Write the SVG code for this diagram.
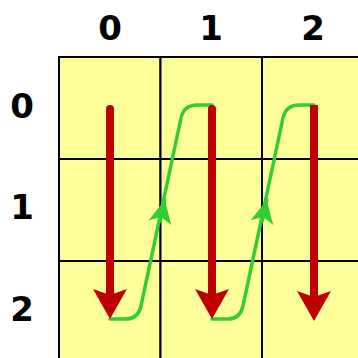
<svg xmlns="http://www.w3.org/2000/svg" width="358" height="358" viewBox="0 0 358 358">
<style>
.lbl{font-family:"DejaVu Sans","Liberation Sans",sans-serif;font-weight:bold;font-size:34px;fill:#000;text-anchor:middle}
.cell{fill:#ffff99;stroke:#000;stroke-width:2}
.red{fill:none;stroke:#c00000;stroke-width:8}
.green{fill:none;stroke:#33cc33;stroke-width:3.5;stroke-linecap:round}
</style>
<defs>
<marker id="rh" markerUnits="userSpaceOnUse" markerWidth="40" markerHeight="40" viewBox="-2 -20 36 40" refX="11" refY="0" orient="auto" overflow="visible">
<path d="M0,-17 L30,0 L0,17 L6,0 Z" fill="#c00000"/>
</marker>
<marker id="gh" markerUnits="userSpaceOnUse" markerWidth="30" markerHeight="30" viewBox="-2 -12 26 24" refX="20" refY="0" orient="auto" overflow="visible">
<path d="M0,-10 L20,0 L0,10 L5,0 Z" fill="#33cc33"/>
</marker>
</defs>
<rect width="358" height="358" fill="#fff"/>
<g id="grid">
<rect id="c00" class="cell" x="59" y="57" width="101.5" height="102"/>
<rect id="c01" class="cell" x="160.5" y="57" width="101.5" height="102"/>
<rect id="c02" class="cell" x="262" y="57" width="101.5" height="102"/>
<rect id="c10" class="cell" x="59" y="159" width="101.5" height="102"/>
<rect id="c11" class="cell" x="160.5" y="159" width="101.5" height="102"/>
<rect id="c12" class="cell" x="262" y="159" width="101.5" height="102"/>
<rect id="c20" class="cell" x="59" y="261" width="101.5" height="102"/>
<rect id="c21" class="cell" x="160.5" y="261" width="101.5" height="102"/>
<rect id="c22" class="cell" x="262" y="261" width="101.5" height="102"/>
</g>
<g id="labels">
<text class="lbl" x="110" y="40">0</text>
<text class="lbl" x="211" y="40">1</text>
<text class="lbl" x="313" y="40">2</text>
<text class="lbl" x="22" y="118">0</text>
<text class="lbl" x="22" y="219">1</text>
<text class="lbl" x="22" y="321">2</text>
</g>
<g id="connectors">
<path class="green" d="M110,319 H126 Q138,319 141,306 L181,118 Q184,105 197,105 H212"/>
<path class="green" d="M160.3,221 L164.8,200" marker-end="url(#gh)"/>
<path class="green" d="M212,319 H228 Q240,319 243,306 L283,118 Q286,105 299,105 H314"/>
<path class="green" d="M262.3,221 L266.8,200" marker-end="url(#gh)"/>
<path class="red" d="M110,109 V300" stroke-linecap="round" marker-end="url(#rh)"/>
<path class="red" d="M212,109 V300" stroke-linecap="round" marker-end="url(#rh)"/>
<path class="red" d="M314,105 V302" marker-end="url(#rh)"/>
</g>
</svg>
